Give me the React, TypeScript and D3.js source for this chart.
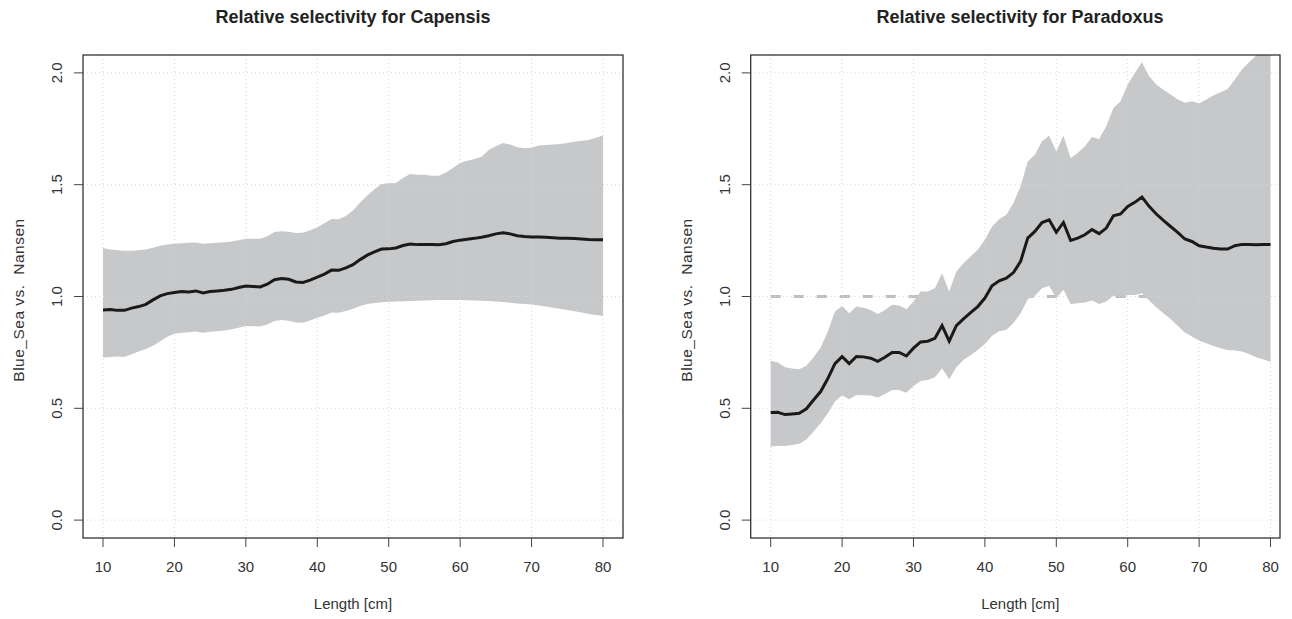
import React from "react";
import * as d3 from "d3";

// lengths (cm) and the selectivity curves
const lengths = [
  10, 11, 12, 13, 14, 15, 16, 17, 18, 19, 20, 21, 22, 23, 24, 25, 26, 27, 28, 29,
  30, 31, 32, 33, 34, 35, 36, 37, 38, 39, 40, 41, 42, 43, 44, 45, 46, 47, 48, 49,
  50, 51, 52, 53, 54, 55, 56, 57, 58, 59, 60, 61, 62, 63, 64, 65, 66, 67, 68, 69,
  70, 71, 72, 73, 74, 75, 76, 77, 78, 79, 80,
];

const capMean = [
  0.94, 0.942, 0.938, 0.938, 0.948, 0.955, 0.965, 0.985, 1.003, 1.013,
  1.018, 1.022, 1.02, 1.025, 1.016, 1.022, 1.025, 1.028, 1.032, 1.04,
  1.047, 1.045, 1.043, 1.055, 1.075, 1.08, 1.077, 1.065, 1.063, 1.073,
  1.087, 1.1, 1.118, 1.117, 1.128, 1.142, 1.165, 1.185, 1.2, 1.212,
  1.213, 1.217, 1.228, 1.235, 1.232, 1.233, 1.232, 1.231, 1.236, 1.246,
  1.252, 1.256, 1.26, 1.265, 1.272, 1.28, 1.285, 1.28, 1.272, 1.268,
  1.266, 1.266, 1.265, 1.263, 1.261, 1.26, 1.259, 1.257, 1.255, 1.254, 1.254,
];
const capUpper = [
  1.217, 1.21, 1.207, 1.205, 1.205, 1.207, 1.21, 1.218, 1.227, 1.233,
  1.236, 1.238, 1.24, 1.242, 1.236, 1.238, 1.24, 1.243, 1.246, 1.252,
  1.258, 1.258, 1.258, 1.27, 1.288, 1.292, 1.29, 1.284, 1.285, 1.296,
  1.31, 1.328, 1.347, 1.345, 1.36, 1.385, 1.42, 1.452, 1.48, 1.503,
  1.507, 1.508, 1.53, 1.548, 1.545, 1.545, 1.54, 1.54, 1.555, 1.575,
  1.597, 1.607, 1.615, 1.625, 1.655, 1.672, 1.687, 1.68, 1.668, 1.663,
  1.665, 1.675, 1.678, 1.68, 1.682, 1.686, 1.692, 1.696, 1.7, 1.71, 1.72,
];
const capLower = [
  0.727, 0.73, 0.732, 0.73, 0.742, 0.754, 0.765, 0.78, 0.8, 0.82,
  0.833, 0.838, 0.84, 0.843, 0.838, 0.842, 0.845, 0.848, 0.853, 0.86,
  0.868, 0.867, 0.866, 0.875, 0.89, 0.895, 0.892, 0.884, 0.883, 0.893,
  0.905, 0.915, 0.928, 0.927, 0.935, 0.945, 0.958, 0.966, 0.971, 0.974,
  0.976, 0.978, 0.979, 0.98, 0.981, 0.982, 0.983, 0.984, 0.984, 0.984,
  0.984, 0.983, 0.982, 0.981, 0.98, 0.978, 0.975, 0.972, 0.969, 0.967,
  0.964, 0.96, 0.955, 0.95, 0.945, 0.94, 0.934, 0.928, 0.922, 0.917, 0.913,
];

const parMean = [
  0.481, 0.482, 0.472, 0.475, 0.478, 0.498, 0.537, 0.575, 0.633, 0.7,
  0.731, 0.7, 0.732, 0.73, 0.724, 0.71, 0.728, 0.75, 0.75, 0.734,
  0.769, 0.797, 0.8, 0.813, 0.87, 0.8, 0.87, 0.9, 0.928, 0.955,
  0.993, 1.048, 1.07, 1.082, 1.107, 1.157, 1.261, 1.291, 1.331, 1.343,
  1.287, 1.331, 1.251, 1.261, 1.276, 1.299, 1.281, 1.306, 1.361, 1.369,
  1.403, 1.421, 1.445, 1.403, 1.369, 1.34, 1.313, 1.287, 1.257, 1.246,
  1.227, 1.221, 1.216, 1.212, 1.212, 1.227, 1.233, 1.233, 1.231, 1.232, 1.232,
];
const parUpper = [
  0.713, 0.705, 0.684, 0.678, 0.675, 0.69, 0.728, 0.772, 0.843, 0.933,
  0.958, 0.925, 0.955, 0.95, 0.94, 0.922, 0.94, 0.963, 0.96, 0.943,
  0.978, 1.022, 1.022, 1.037, 1.104, 1.022, 1.112, 1.149, 1.179, 1.209,
  1.254, 1.313, 1.345, 1.366, 1.418, 1.493, 1.604, 1.634, 1.694, 1.719,
  1.649, 1.719, 1.619, 1.642, 1.672, 1.713, 1.704, 1.761, 1.843, 1.873,
  1.948, 2.0, 2.048, 1.985, 1.948, 1.925, 1.903, 1.881, 1.866, 1.873,
  1.863, 1.881, 1.899, 1.913, 1.928, 1.97, 2.015, 2.048, 2.078, 2.11, 2.14,
];
const parLower = [
  0.328, 0.333, 0.331, 0.336, 0.342, 0.361, 0.396, 0.433, 0.478, 0.53,
  0.557, 0.54, 0.56, 0.558, 0.557, 0.548, 0.564, 0.582, 0.582, 0.57,
  0.6, 0.622, 0.627, 0.639, 0.679, 0.63, 0.684, 0.716, 0.737, 0.761,
  0.788, 0.825, 0.845, 0.851, 0.881, 0.925, 0.988, 1.003, 1.037, 1.048,
  0.993, 1.03, 0.967, 0.97, 0.973, 0.982, 0.966, 0.978, 1.003, 1.003,
  1.007, 1.007, 1.015, 0.982, 0.952, 0.925, 0.899, 0.869, 0.839, 0.821,
  0.803, 0.791, 0.779, 0.769, 0.761, 0.758, 0.754, 0.743, 0.728, 0.718, 0.708,
];

const xTicks = [10, 20, 30, 40, 50, 60, 70, 80];
const yTicks = [0, 0.5, 1, 1.5, 2];
const yTickLabels = ["0.0", "0.5", "1.0", "1.5", "2.0"];

const font = "'Liberation Sans', Arial, Helvetica, sans-serif";
const top = 55;
const bottom = 538;

type PanelProps = {
  id: string;
  title: string;
  titleX: number;
  left: number;
  right: number;
  xMax: number;
  mean: number[];
  upper: number[];
  lower: number[];
  refLine: boolean;
};

const Panel = ({ id, title, titleX, left, right, xMax, mean, upper, lower, refLine }: PanelProps) => {
  const x = d3.scaleLinear().domain([7.2, xMax]).range([left, right]);
  const y = d3.scaleLinear().domain([-0.08, 2.08]).range([bottom, top]);

  const rows = lengths.map((l, i) => ({ l, m: mean[i], u: upper[i], lo: lower[i] }));
  const band = d3
    .area<any>()
    .x((d) => x(d.l))
    .y0((d) => y(d.lo))
    .y1((d) => y(d.u))(rows);
  const line = d3
    .line<any>()
    .x((d) => x(d.l))
    .y((d) => y(d.m))(rows);

  return (
    <g>
      <defs>
        <clipPath id={id}>
          <rect x={left} y={top} width={right - left} height={bottom - top} />
        </clipPath>
      </defs>
      <text x={titleX} y={23} textAnchor="middle" fontSize={18} fontWeight="bold" fill="#222">
        {title}
      </text>

      {refLine && (
        <line x1={x(10)} x2={x(80)} y1={y(1)} y2={y(1)} stroke="#bdbdbd" strokeWidth={3} strokeDasharray="10 13" />
      )}
      <path d={band ?? ""} fill="#c7c8ca" clipPath={`url(#${id})`} />

      {xTicks.map((t) => (
        <line key={"gx" + t} x1={x(t)} x2={x(t)} y1={top} y2={bottom} stroke="#d6d6d6" strokeDasharray="1 3" />
      ))}
      {yTicks.map((t) => (
        <line key={"gy" + t} x1={left} x2={right} y1={y(t)} y2={y(t)} stroke="#d6d6d6" strokeDasharray="1 3" />
      ))}

      <path d={line ?? ""} fill="none" stroke="#1a1a1a" strokeWidth={3} clipPath={`url(#${id})`} />

      <rect x={left} y={top} width={right - left} height={bottom - top} fill="none" stroke="#333" strokeWidth={1.3} />

      {xTicks.map((t) => (
        <g key={"xt" + t}>
          <line x1={x(t)} x2={x(t)} y1={bottom} y2={bottom + 9} stroke="#444" />
          <text x={x(t)} y={572} textAnchor="middle" fontSize={15} fill="#333">
            {t}
          </text>
        </g>
      ))}
      {yTicks.map((t, i) => (
        <g key={"yt" + t}>
          <line x1={left - 9} x2={left} y1={y(t)} y2={y(t)} stroke="#444" />
          <text transform={`translate(${left - 21},${y(t)}) rotate(-90)`} textAnchor="middle" fontSize={15} fill="#333">
            {yTickLabels[i]}
          </text>
        </g>
      ))}

      <text x={(left + (right > 1200 ? 1290 : right)) / 2} y={609} textAnchor="middle" fontSize={15} fill="#333">
        Length [cm]
      </text>
      <text
        transform={`translate(${left - 59},${300}) rotate(-90)`}
        textAnchor="middle"
        fontSize={15.5}
        letterSpacing={0.5}
        fill="#333"
        style={{ whiteSpace: "pre" }}
      >
        {"Blue_Sea vs.  Nansen"}
      </text>
    </g>
  );
};

export default function App() {
  return (
    <svg
      width={1292}
      height={619}
      style={{ position: "fixed", left: 0, top: 0, background: "#fff", fontFamily: font }}
    >
      <rect width={1292} height={619} fill="#fff" />
      <Panel
        id="clipCap"
        title="Relative selectivity for Capensis"
        titleX={353}
        left={83}
        right={623}
        xMax={82.8}
        mean={capMean}
        upper={capUpper}
        lower={capLower}
        refLine={true}
      />
      <Panel
        id="clipPar"
        title="Relative selectivity for Paradoxus"
        titleX={1020}
        left={750.7}
        right={1280}
        xMax={81.33}
        mean={parMean}
        upper={parUpper}
        lower={parLower}
        refLine={true}
      />
    </svg>
  );
}
